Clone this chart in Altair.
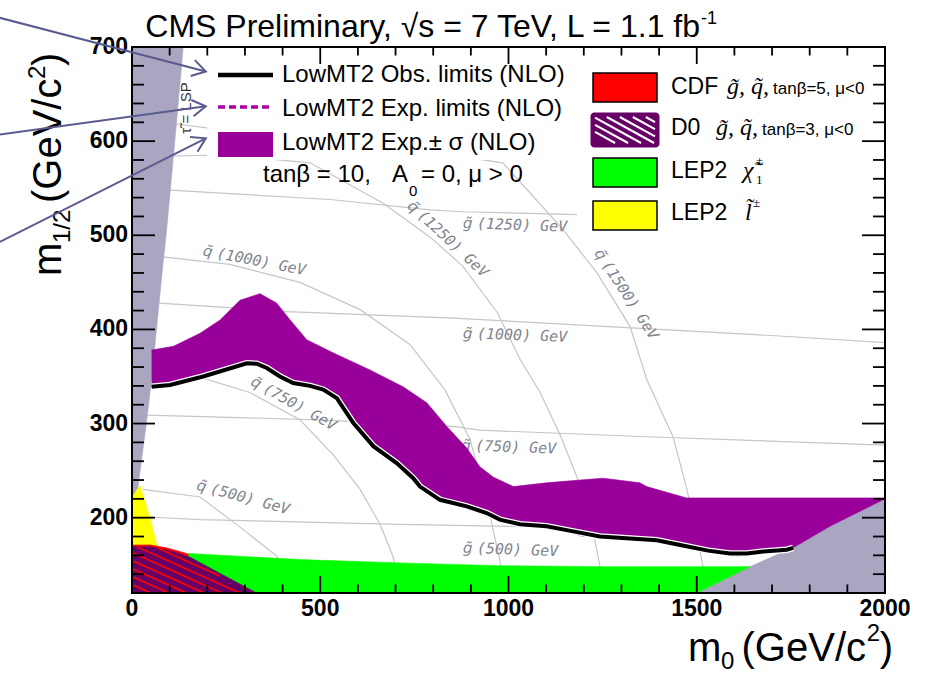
import math
import altair as alt
import numpy as np
import pandas as pd

W, H = 753, 546          # plot area
OX, OY = 132, 47         # plot origin on the page

# ---------------- axes ----------------
M0_RANGE = [0, 2000]
M12_RANGE = [120, 700]
X_LABELS = [0, 500, 1000, 1500, 2000]
Y_LABELS = [200, 300, 400, 500, 600, 700]
X_MINOR = [m for m in range(0, 2001, 100) if m % 500]
Y_MINOR = [m for m in range(120, 701, 20) if m % 100]

# ---------------- excluded regions (m0, m1/2 in GeV) ----------------
LSP_M0 = [0, 136, 114, 92, 78, 65, 52, 38, 25, 15, 5, 0, 0]
LSP_M12 = [700, 700, 601, 506, 453, 400, 347, 300, 260, 230, 180, 150, 120]
EWSB_M0 = [1500, 1641, 1756, 1854, 2000, 2000]
EWSB_M12 = [120, 148, 168, 191, 220, 120]
SLEP_M0 = [0, 21, 48, 66, 66, 0]
SLEP_M12 = [222, 234, 200, 171, 160, 160]
CDF_M0 = [0, 0, 48, 92, 154, 295]
CDF_M12 = [120, 171, 171, 168, 161, 120]
D0_M0 = [0, 0, 50, 100, 154, 331]
D0_M12 = [120, 169, 169, 165, 158, 120]
CHI_M0 = [150, 446, 712, 977, 1243, 1641, 1500, 150]
CHI_M12 = [162, 155.5, 152, 149, 148, 148, 120, 120]

# expected +- sigma band
BAND_UP_M0 = [52, 110, 181, 234, 287, 340, 384, 420, 464, 535, 632, 720, 783, 836, 889,
              924, 960, 1013, 1101, 1190, 1251, 1349, 1367, 1473, 1482, 2000]
BAND_UP_M12 = [378, 382, 396, 410, 431, 438, 428, 410, 389, 375, 357, 339, 322, 297, 274,
               254, 243, 233, 237, 240, 242, 237, 233, 221, 221, 221]
BAND_LO_M0 = [52, 127, 198, 305, 340, 384, 428, 499, 535, 588, 641, 694, 747, 765, 818, 889,
              924, 1013, 1084, 1198, 1304, 1394, 1482, 1580, 1615, 1633, 1703, 1756, 1854, 2000]
BAND_LO_M12 = [339, 343, 352, 365, 362, 350, 341, 338, 331, 304, 279, 262, 242, 233, 219, 212,
               207, 194, 193, 180, 182, 177, 168, 160, 159, 161, 166, 168, 191, 220]

# observed limit
OBS_M0 = [52, 101, 189, 305, 331, 358, 393, 428, 473, 508, 544, 588, 641, 703, 747, 765, 818,
          889, 942, 977, 1030, 1101, 1172, 1243, 1323, 1394, 1456, 1530, 1588, 1633, 1677, 1739, 1756]
OBS_M12 = [339, 341, 350, 364, 363.5, 359, 350, 343, 340, 336, 327, 300.5, 276, 258, 242, 233, 219,
           212, 205, 198, 193, 191, 185.5, 180, 178, 176, 171, 165, 162, 162, 164, 166, 168]

# iso-mass contours
CONTOURS = {
    "sq500": ([29, 181, 287, 385, 420], [230, 222, 190, 159, 120]),
    "sq750": ([61, 181, 313, 446, 534, 606, 659, 693, 712], [359, 349, 333, 304, 267, 230, 193, 159, 120]),
    "sq1000": ([82, 260, 446, 606, 738, 831, 898, 943, 977, 991], [477, 469, 450, 421, 384, 336, 283, 216, 155, 120]),
    "sq1250": ([106, 199, 340, 473, 667, 792, 879, 970, 1031, 1084, 1137, 1190, 1224, 1243, 1251],
               [584, 585, 582, 577, 534, 498, 467, 418, 368, 333, 288, 235, 187, 148, 120]),
    "sq1500": ([101, 199, 600, 985, 1145, 1235, 1323, 1368, 1437, 1474, 1517, 1525],
               [619, 614, 600, 577, 506, 460, 403, 346, 286, 230, 148, 120]),
    "gl500": ([29, 181, 712, 1243, 2000], [201, 198, 193, 189, 185]),
    "gl750": ([40, 499, 853, 924, 1368, 2000], [309, 304, 297, 293, 286, 277]),
    "gl1000": ([72, 412, 853, 1084, 1721, 2000], [428, 419, 412, 407, 393, 386]),
    "gl1250": ([101, 526, 792, 879, 1182], [548, 538, 527, 525, 522]),
}
# contour labels: particle, mass text, start position and angle
LABEL_SYM = ["q\u0303"] * 5 + ["g\u0303"] * 4
LABEL_MASS = ["(500)", "(750)", "(1000)", "(1250)", "(1500)", "(500)", "(750)", "(1000)", "(1250)"]
LABEL_M0 = [173, 319, 189, 738, 1238, 879, 874, 879, 879]
LABEL_M12 = [235, 346, 484, 534, 484, 168, 277, 396, 513]
LABEL_ANGLE = [15, 29, 11, 43, 57, 2, 2, 2, 2]

# annotation arrows (data coordinates, start -> tip)
ARROW_M0_START = [-351, -351, -351]
ARROW_M12_START = [731, 607, 493]
ARROW_M0_TIP = [196, 196, 196]
ARROW_M12_TIP = [674, 637, 603]

# ---------------- colours ----------------
C_BAND = "#990099"
C_D0 = "#660066"
C_GREY = "#aaa6c2"
C_CONT = "#c6c6c6"
C_LAB = "#80858f"
C_ARROW = "#5a5b8e"

xs = alt.Scale(domain=M0_RANGE, nice=False, zero=False)
ys = alt.Scale(domain=M12_RANGE, nice=False, zero=False)
X = alt.X("m0:Q", scale=xs, axis=None)
Y = alt.Y("m12:Q", scale=ys, axis=None)


def polygon(m0, m12, color):
    df = pd.DataFrame({"m0": m0, "m12": m12, "i": list(range(len(m0)))})
    return alt.Chart(df).mark_line(fill=color, stroke=color, strokeWidth=0.6).encode(
        x=X, y=Y, order="i:Q")


def curve(m0, m12, color, width):
    df = pd.DataFrame({"m0": m0, "m12": m12, "i": list(range(len(m0)))})
    return alt.Chart(df).mark_line(color=color, strokeWidth=width).encode(x=X, y=Y, order="i:Q")


def label(s, ax, ay, size, align="left", font="Liberation Sans", weight="normal",
          style="normal", angle=0, color="black", baseline="alphabetic"):
    return alt.Chart(pd.DataFrame({"t": [s]})).mark_text(
        align=align, baseline=baseline, font=font, fontSize=size, fontWeight=weight,
        fontStyle=style, angle=angle, color=color
    ).encode(x=alt.value(ax - OX), y=alt.value(ay - OY), text="t:N")


def seg(ax0, ay0, ax1, ay1, color, width, dash=None):
    kw = dict(color=color, strokeWidth=width)
    if dash:
        kw["strokeDash"] = dash
    return alt.Chart(pd.DataFrame({"d": [0]})).mark_rule(**kw).encode(
        x=alt.value(ax0 - OX), y=alt.value(ay0 - OY), x2=alt.value(ax1 - OX), y2=alt.value(ay1 - OY))


def box(ax0, ay0, ax1, ay1, fill, stroke=None, sw=0, radius=0):
    kw = dict(color=fill, cornerRadius=radius)
    if stroke:
        kw["stroke"] = stroke
        kw["strokeWidth"] = sw
    return alt.Chart(pd.DataFrame({"d": [0]})).mark_rect(**kw).encode(
        x=alt.value(ax0 - OX), y=alt.value(ay0 - OY), x2=alt.value(ax1 - OX), y2=alt.value(ay1 - OY))


def clip_line(p, d, polys):
    t0, t1 = -1e9, 1e9
    p = np.asarray(p, float)
    d = np.asarray(d, float)
    for poly in polys:
        pts = np.asarray(poly, float)
        c = pts.mean(axis=0)
        for j in range(len(pts)):
            a, b = pts[j], pts[(j + 1) % len(pts)]
            e = b - a
            nrm = np.array([-e[1], e[0]])
            if np.dot(nrm, c - a) < 0:
                nrm = -nrm
            num = np.dot(nrm, p - a)
            den = np.dot(nrm, d)
            if abs(den) < 1e-12:
                if num < 0:
                    return None
            elif den > 0:
                t0 = max(t0, -num / den)
            else:
                t1 = min(t1, -num / den)
    if t1 <= t0:
        return None
    return p + t0 * d, p + t1 * d


layers = []

# iso-mass contours
rows = []
for name, (a, b) in CONTOURS.items():
    for i, (u, v) in enumerate(zip(a, b)):
        rows.append({"name": name, "i": i, "m0": u, "m12": v})
layers.append(alt.Chart(pd.DataFrame(rows)).mark_line(color=C_CONT, strokeWidth=1.2).encode(
    x=X, y=Y, detail="name:N", order="i:Q"))
lab_df = pd.DataFrame({"sym": LABEL_SYM,
                       "rest": [m + "\u00a0GeV" for m in LABEL_MASS],
                       "m0": LABEL_M0, "m12": LABEL_M12, "a": LABEL_ANGLE})
layers.append(alt.Chart(lab_df).mark_text(
    font="DejaVu Sans", fontStyle="italic", fontSize=15, color=C_LAB, align="left", baseline="middle"
).encode(x=X, y=Y, text="sym:N", angle=alt.Angle("a:Q", scale=None)))
layers.append(alt.Chart(lab_df).mark_text(
    font="DejaVu Sans Mono", fontStyle="italic", fontSize=15, color=C_LAB, align="left", baseline="middle",
    dx=14
).encode(x=X, y=Y, text="rest:N", angle=alt.Angle("a:Q", scale=None)))

# legend backgrounds (hide contours behind legends)
layers.append(box(207, 52, 585, 160, "white"))
layers.append(box(585, 52, 883, 240, "white"))

# excluded regions
layers.append(polygon(LSP_M0, LSP_M12, C_GREY))
layers.append(polygon(EWSB_M0, EWSB_M12, C_GREY))
layers.append(polygon(SLEP_M0, SLEP_M12, "#ffff00"))
layers.append(polygon(CDF_M0, CDF_M12, "#ff0000"))
layers.append(polygon(CHI_M0, CHI_M12, "#00ff00"))
layers.append(polygon(D0_M0, D0_M12, C_D0))

# D0 hatching showing the CDF region underneath
d0_poly = list(zip(D0_M0, D0_M12))
cdf_poly = list(zip(CDF_M0, CDF_M12))
k_data = 0.45 * (M12_RANGE[1] - M12_RANGE[0]) / H * W / (M0_RANGE[1] - M0_RANGE[0])
srows = []
for c in np.arange(112, 240, 8.5):
    r = clip_line((0, c), (1, -k_data), [d0_poly, cdf_poly])
    if r is not None:
        srows.append({"m0": r[0][0], "m12": r[0][1], "m0b": r[1][0], "m12b": r[1][1]})
layers.append(alt.Chart(pd.DataFrame(srows)).mark_rule(color="#ff0000", strokeWidth=1.6).encode(
    x=X, y=Y, x2="m0b:Q", y2="m12b:Q"))

# expected band and observed limit
layers.append(polygon(BAND_UP_M0 + BAND_LO_M0[::-1], BAND_UP_M12 + BAND_LO_M12[::-1], C_BAND))
layers.append(curve(OBS_M0, OBS_M12, "white", 6.5))
layers.append(curve(OBS_M0, OBS_M12, "black", 4))

# stau LSP text
layers.append(label("\u03c4\u0303 = LSP", 186, 108, 15, align="center", baseline="middle",
                    angle=270, color="#333333"))

# ROOT-style inner ticks
tx_major = pd.DataFrame({"m0": X_LABELS})
tx_minor = pd.DataFrame({"m0": X_MINOR})
ty_major = pd.DataFrame({"m12": Y_LABELS})
ty_minor = pd.DataFrame({"m12": Y_MINOR})
for df, ln in ((tx_major, 17), (tx_minor, 8.5)):
    layers.append(alt.Chart(df).mark_rule(color="black", strokeWidth=1.8).encode(
        x=X, y=alt.value(H), y2=alt.value(H - ln)))
    layers.append(alt.Chart(df).mark_rule(color="black", strokeWidth=1.8).encode(
        x=X, y=alt.value(0), y2=alt.value(ln)))
for df, ln in ((ty_major, 23), (ty_minor, 12)):
    layers.append(alt.Chart(df).mark_rule(color="black", strokeWidth=1.8).encode(
        y=Y, x=alt.value(0), x2=alt.value(ln)))
    layers.append(alt.Chart(df).mark_rule(color="black", strokeWidth=1.8).encode(
        y=Y, x=alt.value(W), x2=alt.value(W - ln)))

# tick labels
layers.append(alt.Chart(tx_major).mark_text(
    font="Liberation Sans", fontWeight="bold", fontSize=23, baseline="top", align="center", color="black"
).encode(x=X, y=alt.value(H + 5), text="m0:Q"))
layers.append(alt.Chart(ty_major).mark_text(
    font="Liberation Sans", fontWeight="bold", fontSize=23, baseline="middle", align="right", color="black"
).encode(y=Y, x=alt.value(-4), text="m12:Q"))

# frame
layers.append(alt.Chart(pd.DataFrame({"d": [0]})).mark_rect(filled=False, stroke="black", strokeWidth=2).encode(
    x=alt.value(0), y=alt.value(0), x2=alt.value(W), y2=alt.value(H)))

# ---------------- left legend ----------------
layers.append(seg(218, 75, 273, 75, "black", 4.5))
layers.append(seg(218, 107, 273, 107, "#aa00aa", 3.5, dash=[7, 4]))
layers.append(box(218, 132, 273, 157, C_BAND))
layers.append(label("LowMT2 Obs. limits (NLO)", 282, 82, 24))
layers.append(label("LowMT2 Exp. limits (NLO)", 282, 116, 24))
layers.append(label("LowMT2 Exp.\u00b1 \u03c3 (NLO)", 282, 150, 24))
layers.append(label("tan\u03b2 = 10,", 263, 182, 24))
layers.append(label("A", 392, 182, 24))
layers.append(label("0", 409, 196, 15))
layers.append(label("= 0, \u03bc > 0", 421, 182, 24))

# ---------------- right legend ----------------
layers.append(box(593, 73, 657, 102, "#ff0000", "black", 1.5))
layers.append(box(591, 113, 659, 147, C_D0, C_D0, 1, radius=3))
for x0 in range(566, 660, 13):
    r = clip_line((x0, 116), (1, 0.55), [[(595, 117), (655, 117), (655, 143), (595, 143)]])
    if r is not None:
        layers.append(seg(r[0][0], r[0][1], r[1][0], r[1][1], "white", 2))
layers.append(box(593, 158, 657, 187, "#00ff00", "black", 1.5))
layers.append(box(593, 201, 657, 230, "#ffff00", "black", 1.5))

GL, SQ = "g\u0303", "q\u0303"
layers.append(label("CDF", 671, 94, 23))
layers.append(label(GL + ", " + SQ + ",", 727, 94, 24, font="Liberation Serif", style="italic"))
layers.append(label("tan\u03b2=5, \u03bc<0", 773, 94, 17))
layers.append(label("D0", 671, 135, 23))
layers.append(label(GL + ", " + SQ + ",", 716, 135, 24, font="Liberation Serif", style="italic"))
layers.append(label("tan\u03b2=3, \u03bc<0", 762, 135, 17))
layers.append(label("LEP2", 671, 178, 23))
layers.append(label("\u03c7\u0303", 743, 178, 24, font="Liberation Serif", style="italic"))
layers.append(label("\u00b1", 756, 165, 13, font="Liberation Serif"))
layers.append(label("1", 756, 184, 13, font="Liberation Serif"))
layers.append(label("LEP2", 671, 220, 23))
layers.append(label("l\u0303", 745, 220, 24, font="Liberation Serif", style="italic"))
layers.append(label("\u00b1", 753, 207, 13, font="Liberation Serif"))

# ---------------- titles ----------------
layers.append(label("CMS Preliminary, \u221as = 7 TeV, L = 1.1 fb", 700, 37, 32, align="right"))
layers.append(label("-1", 701, 24, 18))

layers.append(label("m", 688, 661, 40))
layers.append(label("0", 721, 669, 24))
layers.append(label("(GeV/c", 866, 661, 40, align="right"))
layers.append(label("2", 880, 641, 24, align="right"))
layers.append(label(")", 893, 661, 40, align="right"))

layers.append(label("m", 61, 276, 40, angle=270))
layers.append(label("1/2", 70, 243, 24, angle=270))
layers.append(label("(GeV/c", 61, 203, 40, angle=270))
layers.append(label("2", 45, 79, 24, angle=270))
layers.append(label(")", 61, 66, 40, angle=270))

# ---------------- arrows ----------------
arr = pd.DataFrame({"m0": ARROW_M0_START, "m12": ARROW_M12_START,
                    "m0b": ARROW_M0_TIP, "m12b": ARROW_M12_TIP})
layers.append(alt.Chart(arr).mark_rule(color=C_ARROW, strokeWidth=2).encode(
    x=X, y=Y, x2="m0b:Q", y2="m12b:Q"))
sx = W / (M0_RANGE[1] - M0_RANGE[0])
sy = H / (M12_RANGE[1] - M12_RANGE[0])
heads = pd.DataFrame({
    "m0": ARROW_M0_TIP, "m12": ARROW_M12_TIP,
    "a": [math.degrees(math.atan2((x1 - x0) * sx, (y1 - y0) * sy)) % 360
          for x0, y0, x1, y1 in zip(ARROW_M0_START, ARROW_M12_START, ARROW_M0_TIP, ARROW_M12_TIP)]})
layers.append(alt.Chart(heads).mark_point(
    shape="M -0.55 0.9 L 0 0 L 0.55 0.9", filled=False, size=900, strokeWidth=2, color=C_ARROW, opacity=1
).encode(x=X, y=Y, angle=alt.Angle("a:Q", scale=None)))

chart = alt.layer(*layers).properties(
    width=W, height=H,
    autosize=alt.AutoSizeParams(type="none"),
    padding={"left": OX, "top": OY, "right": 926 - OX - W, "bottom": 673 - OY - H},
).configure_view(strokeWidth=0)

chart.save("out.html", embed_options={"renderer": "svg", "actions": False})
